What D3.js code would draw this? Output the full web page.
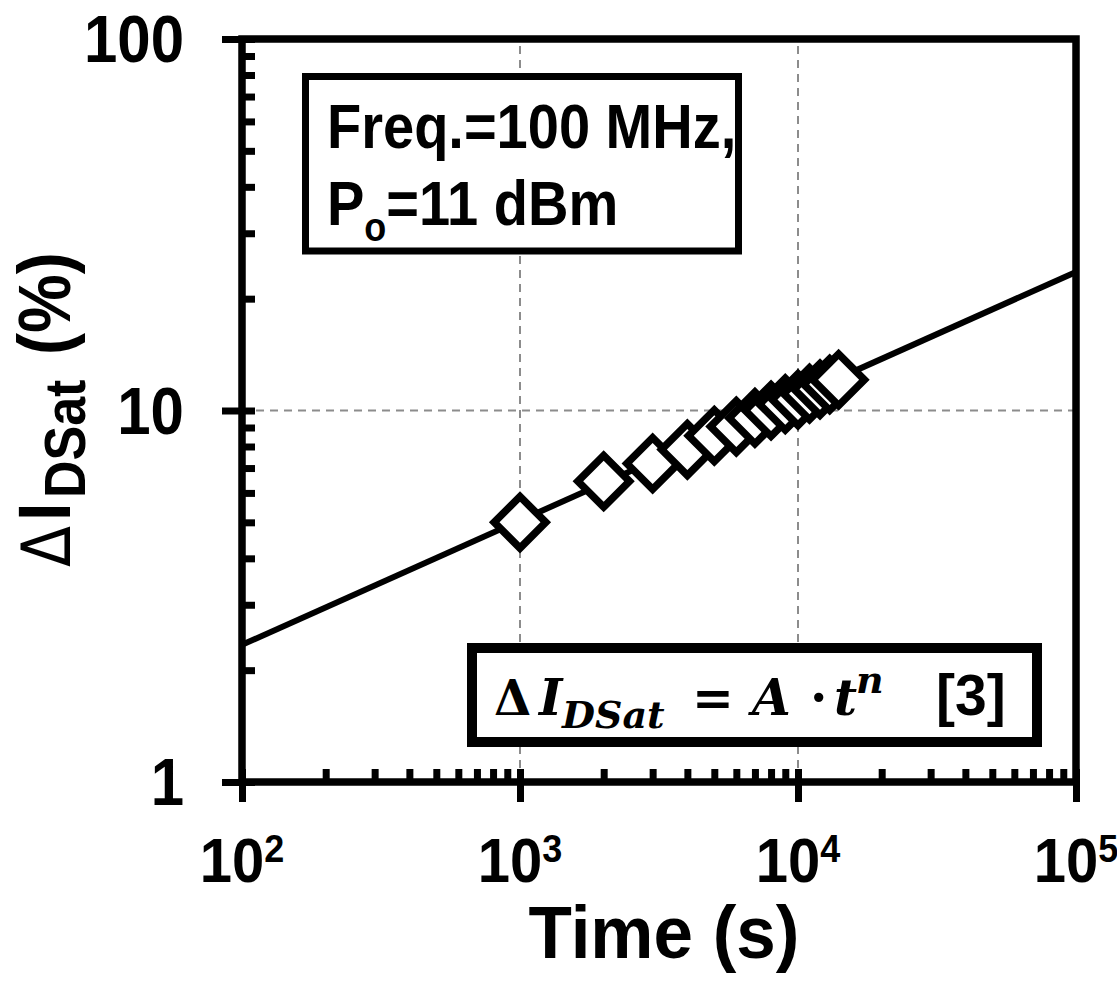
<!DOCTYPE html>
<html>
<head>
<meta charset="utf-8">
<script src="https://cdn.jsdelivr.net/npm/d3@7"></script>
<style>
  html, body { margin: 0; padding: 0; background: #fff; }
  svg { display: block; }
  text { font-family: "Liberation Sans", Arial, sans-serif; font-weight: bold; fill: #000; }
</style>
</head>
<body>
<svg id="chart" width="1117" height="983"></svg>
<script>
// Stress time (s) and measured saturation-current degradation (%)
const timeS = [1000, 2000, 3000, 4000, 5000, 6000, 7000, 8000, 9000, 10000, 11000, 12000, 13000, 14000];
const deltaIdsat = [5.0, 6.45, 7.2, 7.85, 8.55, 9.05, 9.55, 10.0, 10.4, 10.7, 11.1, 11.4, 11.75, 12.1];

// Power-law fit ΔI = A·t^n evaluated at the ends of the time axis
const fitTime = [100, 100000];
const fitDelta = [2.34, 23.6];

// Axis ticks
const xTickExps = [2, 3, 4, 5];
const yTickLabels = ["1", "10", "100"];
const yTickValues = [1, 10, 100];
const xGridValues = [1000, 10000];
const yGridValues = [10];

const svg = d3.select("#chart");
const margin = { left: 242, right: 1076, top: 39, bottom: 782 };

const x = d3.scaleLog().domain([100, 100000]).range([margin.left, margin.right]);
const y = d3.scaleLog().domain([1, 100]).range([margin.bottom, margin.top]);

// Dashed grid
const grid = svg.append("g").attr("stroke", "#8c8c8c").attr("stroke-width", 2).attr("stroke-dasharray", "8,6");
grid.selectAll("line.gx").data(xGridValues).join("line")
  .attr("x1", d => x(d)).attr("x2", d => x(d))
  .attr("y1", margin.bottom).attr("y2", margin.top);
grid.selectAll("line.gy").data(yGridValues).join("line")
  .attr("x1", margin.left).attr("x2", margin.right)
  .attr("y1", d => y(d)).attr("y2", d => y(d));

// Fit line
const line = d3.line().x(d => x(d[0])).y(d => y(d[1]));
svg.append("path")
  .datum(fitTime.map((t, i) => [t, fitDelta[i]]))
  .attr("d", line)
  .attr("fill", "none").attr("stroke", "#000").attr("stroke-width", 6);

// Diamond markers
const diamond = d3.symbol().type(d3.symbolSquare).size(1330);
svg.append("g").selectAll("path").data(timeS.map((t, i) => [t, deltaIdsat[i]])).join("path")
  .attr("d", diamond)
  .attr("transform", d => `translate(${x(d[0])},${y(d[1])}) rotate(45)`)
  .attr("fill", "#fff").attr("stroke", "#000").attr("stroke-width", 7.5)
  .attr("stroke-linejoin", "miter");

// Axes: ticks via d3 axis generators, then restyled
const minorX = [];
for (let e = 2; e < 5; e++) for (let m = 2; m <= 9; m++) minorX.push(m * Math.pow(10, e));
const minorY = [];
for (let e = 0; e < 2; e++) for (let m = 2; m <= 9; m++) minorY.push(m * Math.pow(10, e));

function styleAxis(g) {
  g.select(".domain").remove();
  g.selectAll(".tick line").attr("stroke", "#000").attr("stroke-width", 7);
  g.selectAll(".tick text").remove();
}

// minor ticks point inward
svg.append("g").attr("transform", `translate(0,${margin.bottom})`)
  .call(d3.axisTop(x).tickValues(minorX).tickSize(13)).call(styleAxis);
svg.append("g").attr("transform", `translate(${margin.left},0)`)
  .call(d3.axisRight(y).tickValues(minorY).tickSize(13)).call(styleAxis);

// major ticks cross the axis
const xMajor = xTickExps.map(e => Math.pow(10, e));
svg.append("g").attr("transform", `translate(0,${margin.bottom})`)
  .call(d3.axisBottom(x).tickValues(xMajor).tickSize(20)).call(styleAxis);
svg.append("g").attr("transform", `translate(0,${margin.bottom})`)
  .call(d3.axisTop(x).tickValues(xMajor).tickSize(13)).call(styleAxis);
svg.append("g").attr("transform", `translate(${margin.left},0)`)
  .call(d3.axisLeft(y).tickValues(yTickValues).tickSize(20)).call(styleAxis);
svg.append("g").attr("transform", `translate(${margin.left},0)`)
  .call(d3.axisRight(y).tickValues(yTickValues).tickSize(13)).call(styleAxis);

// Frame
svg.append("rect")
  .attr("x", margin.left).attr("y", margin.top)
  .attr("width", margin.right - margin.left).attr("height", margin.bottom - margin.top)
  .attr("fill", "none").attr("stroke", "#000").attr("stroke-width", 7.5);

// Y tick labels
yTickValues.forEach((v, i) => {
  svg.append("g").attr("transform", `translate(184,${y(v) + 23}) scale(1,1.1)`)
    .append("text").attr("text-anchor", "end").attr("font-size", 60).text(yTickLabels[i]);
});

// X tick labels (10^n)
xTickExps.forEach(e => {
  const t = svg.append("g").attr("transform", `translate(${x(Math.pow(10, e))},882) scale(1,1.1)`)
    .append("text").attr("text-anchor", "middle").attr("font-size", 58);
  t.append("tspan").text("10");
  t.append("tspan").attr("font-size", 36).attr("dy", -18).text(String(e));
});

// X axis title
svg.append("g").attr("transform", "translate(664,958) scale(1,1.05)")
  .append("text").attr("text-anchor", "middle").attr("font-size", 71).text("Time (s)");

// Y axis title: ΔI_DSat (%)
const yt = svg.append("g").attr("transform", "translate(70,567) rotate(-90) scale(1,1.12)");
yt.append("text").attr("x", 0).attr("y", 0)
  .style("font-family", "'DejaVu Sans', sans-serif").style("font-weight", "normal")
  .attr("font-size", 60).text("Δ");
yt.append("text").attr("x", 46).attr("y", 0).attr("font-size", 66).text("I");
yt.append("text").attr("x", 69).attr("y", 13).attr("font-size", 52).text("DSat");
yt.append("text").attr("x", 212).attr("y", 0).attr("font-size", 66).text("(%)");

// Condition box
svg.append("rect").attr("x", 305.5).attr("y", 76.5).attr("width", 433).attr("height", 174.5)
  .attr("fill", "#fff").attr("stroke", "#000").attr("stroke-width", 7);
svg.append("g").attr("transform", "translate(327,148) scale(1,1.13)")
  .append("text").attr("font-size", 56).text("Freq.=100 MHz,");
const p = svg.append("g").attr("transform", "translate(327,225) scale(1,1.13)")
  .append("text").attr("font-size", 56);
p.append("tspan").text("P");
p.append("tspan").attr("font-size", 36).attr("dy", 14).text("o");
p.append("tspan").attr("dy", -14).text("=11 dBm");

// Model equation box
svg.append("rect").attr("x", 472).attr("y", 648).attr("width", 565).attr("height", 94)
  .attr("fill", "#fff").attr("stroke", "#000").attr("stroke-width", 10);
const eq = svg.append("g");
const serif = "'DejaVu Serif', serif";
eq.append("text").attr("x", 494).attr("y", 715).attr("font-size", 48).style("font-family", serif).text("Δ");
eq.append("text").attr("x", 539).attr("y", 715).attr("font-size", 50).style("font-family", serif).style("font-style", "italic").text("I");
eq.append("text").attr("x", 562).attr("y", 728).attr("font-size", 38).style("font-family", serif).style("font-style", "italic").text("DSat");
eq.append("text").attr("x", 692).attr("y", 715).attr("font-size", 50).style("font-family", serif).text("=");
eq.append("text").attr("x", 752).attr("y", 715).attr("font-size", 50).style("font-family", serif).style("font-style", "italic").text("A");
eq.append("text").attr("x", 810).attr("y", 715).attr("font-size", 50).style("font-family", serif).text("·");
eq.append("text").attr("x", 834).attr("y", 715).attr("font-size", 50).style("font-family", serif).style("font-style", "italic").text("t");
eq.append("text").attr("x", 856).attr("y", 693).attr("font-size", 38).style("font-family", serif).style("font-style", "italic").text("n");
eq.append("text").attr("x", 936).attr("y", 715).attr("font-size", 57).text("[3]");
</script>
</body>
</html>
